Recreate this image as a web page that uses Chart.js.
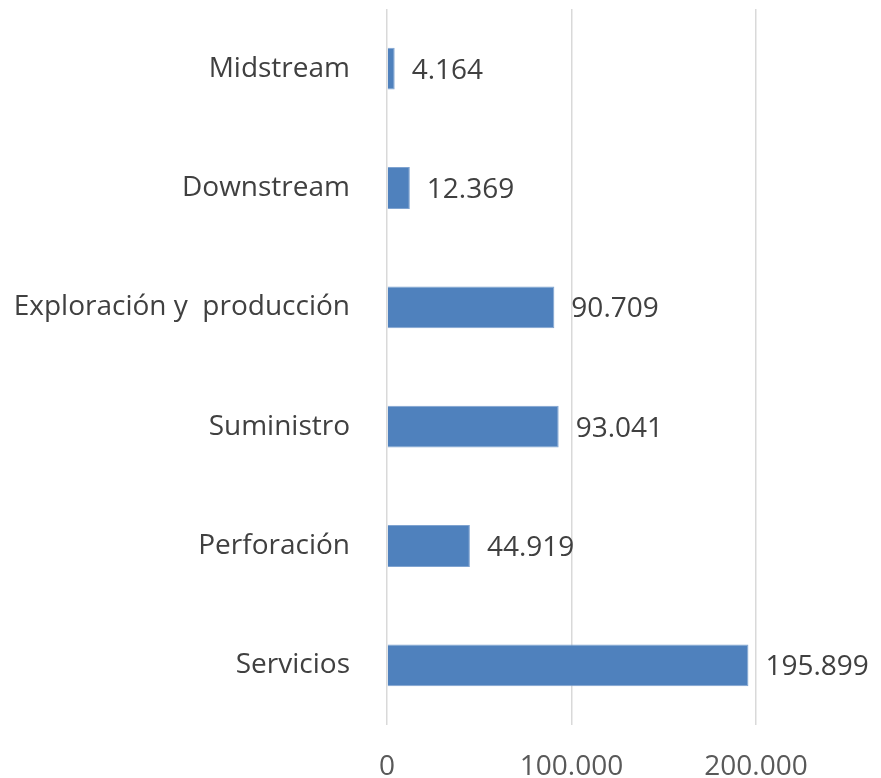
<!DOCTYPE html>
<html>
<head>
<meta charset="utf-8">
<script src="https://cdn.jsdelivr.net/npm/chart.js@4"></script>
<style>
  html, body { margin: 0; padding: 0; background: #fff; }
  #wrap { width: 881px; height: 778px; position: relative; }
</style>
</head>
<body>
<div id="wrap"><canvas id="chart"></canvas></div>
<script>
// Data
var categories = ['Midstream', 'Downstream', 'Exploración y  producción', 'Suministro', 'Perforación', 'Servicios'];
var values = [4164, 12369, 90709, 93041, 44919, 195899];
var tickValues = [0, 100000, 200000];

var FONT = 'Open Sans';

function fmt(v) {
    return Math.round(v).toString().replace(/\B(?=(\d{3})+(?!\d))/g, '.');
}

// value labels at the end of each bar
var barLabels = {
    id: 'barLabels',
    afterDatasetsDraw: function(chart) {
        var ctx = chart.ctx;
        var meta = chart.getDatasetMeta(0);
        ctx.save();
        ctx.font = '28px "' + FONT + '"';
        ctx.fillStyle = '#404040';
        ctx.textAlign = 'left';
        ctx.textBaseline = 'middle';
        meta.data.forEach(function(bar, i) {
            ctx.fillText(fmt(values[i]), bar.x + 17, bar.y + 2);
        });
        ctx.restore();
    }
};

document.addEventListener("DOMContentLoaded", function() {
    var ctx = document.getElementById('chart').getContext('2d');
    new Chart(ctx, {
        type: 'bar',
        data: {
            labels: categories,
            datasets: [{
                data: values,
                backgroundColor: '#4F81BD',
                borderColor: '#7FA3D0',
                borderWidth: 1,
                barPercentage: 0.7,
                categoryPercentage: 0.5
            }]
        },
        plugins: [barLabels],
        options: {
            indexAxis: 'y',
            responsive: true,
            maintainAspectRatio: false,
            animation: false,
            layout: { padding: { top: 9, right: 125, left: 0, bottom: 0 } },
            plugins: {
                legend: { display: false },
                tooltip: { enabled: false }
            },
            scales: {
                x: {
                    min: 0,
                    max: 200000,
                    afterBuildTicks: function(scale) {
                        scale.ticks = tickValues.map(function(v) { return { value: v }; });
                    },
                    afterFit: function(scale) { scale.height = 53; },
                    grid: { color: '#D9D9D9', lineWidth: 1.5, drawTicks: false },
                    border: { display: false },
                    ticks: {
                        padding: 25,
                        color: '#595959',
                        font: { family: FONT, size: 28 },
                        maxRotation: 0,
                        callback: function(v) { return fmt(v); }
                    }
                },
                y: {
                    afterFit: function(scale) {
                        scale.width = 387;
                        scale.paddingTop = 0;
                        scale.paddingBottom = 0;
                    },
                    grid: { display: false, drawTicks: false },
                    border: { display: false },
                    ticks: {
                        padding: 37,
                        color: '#404040',
                        font: { family: FONT, size: 28 }
                    }
                }
            }
        }
    });
});
</script>
</body>
</html>
